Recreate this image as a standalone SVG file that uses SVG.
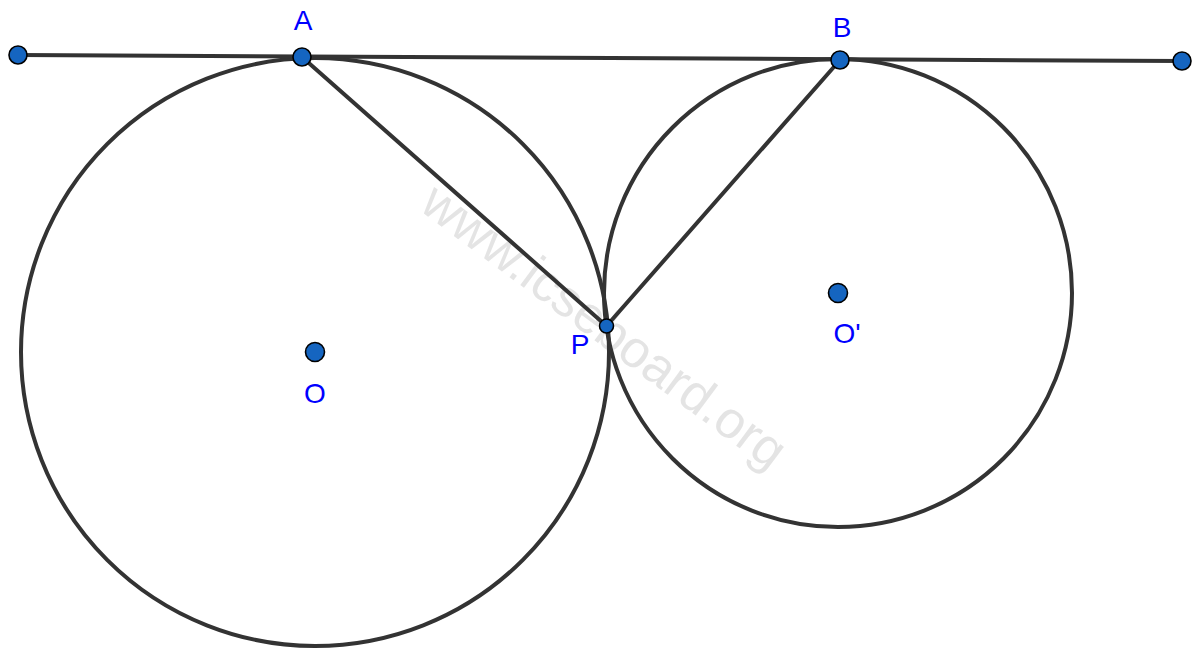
<svg xmlns="http://www.w3.org/2000/svg" width="1200" height="659" viewBox="0 0 1200 659">
<style>
.ln{stroke:#333333;stroke-width:4;fill:none;stroke-linecap:round}
.pt{fill:#1565c0;stroke:#000;stroke-width:1.6}
.lb{font-family:"Liberation Sans",Arial,sans-serif;font-size:28px;fill:#0000ff;text-anchor:middle}
.wm{font-family:"Liberation Sans",Arial,sans-serif;font-size:52px;fill:#d9d9d9;fill-opacity:0.7;text-anchor:middle}
</style>
<rect width="1200" height="659" fill="#ffffff"/>
<text class="wm" transform="translate(594,340) rotate(36.6)">www.icseboard.org</text>
<g id="connectors">
<circle class="ln" cx="315" cy="352" r="294"/>
<circle class="ln" cx="838" cy="293" r="234"/>
<line class="ln" x1="18" y1="55" x2="1182" y2="61"/>
<line class="ln" x1="302" y1="57" x2="606.5" y2="326"/>
<line class="ln" x1="840" y1="60" x2="606.5" y2="326"/>
</g>
<g id="L"><circle class="pt" cx="18" cy="55" r="9"/></g>
<g id="R"><circle class="pt" cx="1182" cy="61" r="9"/></g>
<g id="A"><circle class="pt" cx="302" cy="57" r="9"/><text class="lb" x="303" y="30">A</text></g>
<g id="B"><circle class="pt" cx="840" cy="60" r="9"/><text class="lb" x="842" y="37">B</text></g>
<g id="P"><circle class="pt" cx="606.5" cy="326" r="7"/><text class="lb" x="580" y="354">P</text></g>
<g id="O"><circle class="pt" cx="315" cy="352" r="9.5"/><text class="lb" x="315" y="403">O</text></g>
<g id="O2"><circle class="pt" cx="838" cy="293" r="9.5"/><text class="lb" x="847" y="343">O'</text></g>
</svg>
